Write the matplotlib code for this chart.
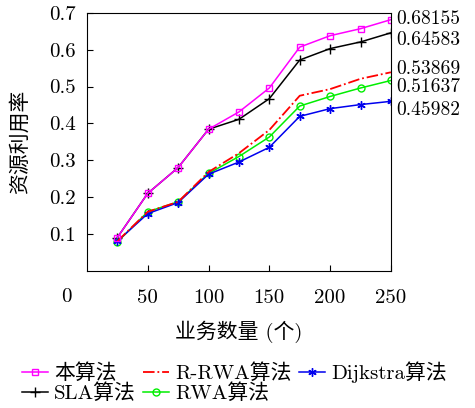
import matplotlib
matplotlib.use("Agg")
import matplotlib.pyplot as plt

plt.rcParams['font.family'] = ['cmr10', 'Noto Sans CJK SC', 'DejaVu Serif']
plt.rcParams['axes.formatter.use_mathtext'] = True

# data
x = [25, 50, 75, 100, 125, 150, 175, 200, 225, 250]
ours = [0.09, 0.21, 0.28, 0.384, 0.431, 0.496, 0.607, 0.638, 0.657, 0.68155]
sla = [0.09, 0.21, 0.28, 0.384, 0.411, 0.467, 0.572, 0.603, 0.621, 0.64583]
rrwa = [0.08, 0.16, 0.187, 0.268, 0.319, 0.382, 0.475, 0.493, 0.521, 0.53869]
rwa = [0.078, 0.16, 0.187, 0.264, 0.31, 0.363, 0.447, 0.473, 0.496, 0.51637]
dijk = [0.08, 0.155, 0.185, 0.262, 0.295, 0.335, 0.419, 0.44, 0.451, 0.45982]

xticks = [50, 100, 150, 200, 250]
yticks = [0.1, 0.2, 0.3, 0.4, 0.5, 0.6, 0.7]

fs = 15
fig = plt.figure(figsize=(4.75, 4.08), dpi=100)
ax = fig.add_axes([0.183, 0.3365, 0.64, 0.632])

ax.plot(x, sla, color='black', marker='+', ms=7, lw=1.1, label='SLA算法')
ax.plot(x, rwa, color='#00ee00', marker='o', ms=5, mfc='none', lw=1.1, label='RWA算法')
ax.plot(x, dijk, color='#0000ee', marker=(6, 2, 0), ms=6, lw=1.1, label='Dijkstra算法')
ax.plot(x, rrwa, color='red', ls='-.', lw=1.3, label='R-RWA算法')
ax.plot(x, ours, color='magenta', marker='s', ms=4.5, mfc='none', lw=1.1, label='本算法')

# end value labels
for v, dy in [(ours[-1], 0.5), (sla[-1], -5), (rrwa[-1], 2.5), (rwa[-1], -4.5), (dijk[-1], -6)]:
    ax.annotate('%.5f' % v, xy=(x[-1], v), xytext=(4, dy), textcoords='offset points',
                va='center', ha='left', fontsize=14, annotation_clip=False)

ax.set_xlim(0, 250)
ax.set_ylim(0, 0.7)
ax.set_xticks(xticks)
ax.set_xticklabels([str(t) for t in xticks])
ax.set_yticks(yticks)
ax.set_yticklabels(['%.1f' % t for t in yticks])
ax.tick_params(direction='in', labelsize=fs, length=4)
ax.tick_params(axis='x', pad=13)
ax.tick_params(axis='y', pad=8)
ax.text(-0.066, -0.102, '0', transform=ax.transAxes, ha='center', va='center', fontsize=fs)

ax.set_xlabel('业务数量 (个)', fontsize=fs, labelpad=10)
ax.set_ylabel('资源利用率', fontsize=fs, labelpad=14)

h, l = ax.get_legend_handles_labels()
order = [4, 0, 3, 1, 2]
fig.legend([h[i] for i in order], [l[i] for i in order], ncol=3, loc='lower left',
           bbox_to_anchor=(0.035, 0.0), frameon=False, fontsize=fs, handlelength=1.25,
           handletextpad=0.3, columnspacing=0.35, labelspacing=0.0, borderaxespad=0.1,
           borderpad=0.15)

fig.savefig('out.png', dpi=100)
